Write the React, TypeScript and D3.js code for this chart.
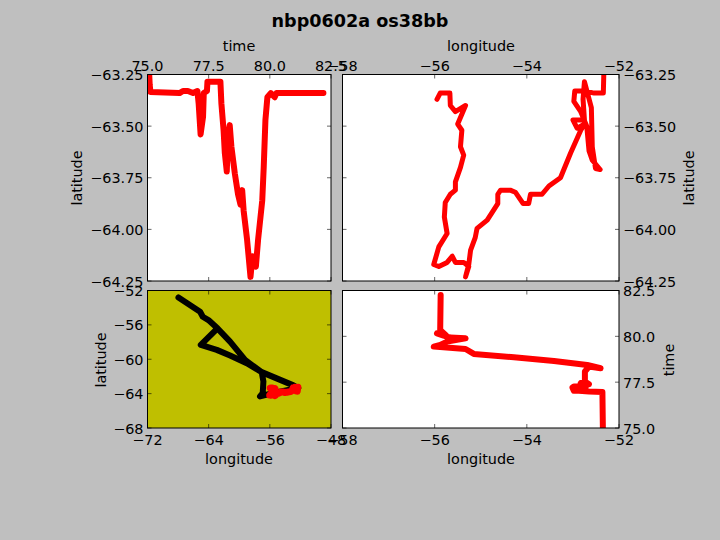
import React from "react";
import * as d3 from "d3";

const W = 720, H = 540;
const FONT = "'DejaVu Sans', sans-serif";

// Track A: time vs latitude
const tlTime = [75.07,75.09,75.12,76.31,76.45,76.65,76.86,77.04,77.09,77.17,77.27,77.30,77.43,77.45,77.98,78.02,78.11,78.16,78.24,78.29,78.36,78.43,78.57,78.70,78.80,78.87,78.93,79.07,79.21,79.29,79.43,79.52,79.69,79.75,79.82,79.90,80.04,80.20,80.27,82.19];
const tlLat = [-63.25,-63.30,-63.335,-63.34,-63.33,-63.33,-63.34,-63.33,-63.39,-63.54,-63.455,-63.34,-63.33,-63.285,-63.285,-63.39,-63.52,-63.63,-63.72,-63.55,-63.495,-63.60,-63.73,-63.83,-63.88,-63.81,-63.91,-64.05,-64.23,-64.13,-64.18,-64.05,-63.86,-63.70,-63.47,-63.36,-63.34,-63.36,-63.34,-63.34];

// Track B: longitude vs latitude
const trLon = [-52.33,-52.34,-52.54,-52.75,-52.96,-52.98,-52.83,-52.70,-52.65,-52.58,-52.41,-52.51,-52.58,-52.60,-52.75,-52.78,-52.75,-53.00,-52.91,-52.75,-52.83,-53.05,-53.27,-53.52,-53.67,-53.92,-53.96,-54.08,-54.25,-54.36,-54.57,-54.63,-54.63,-54.86,-55.08,-55.12,-55.22,-55.26,-55.33,-55.26,-55.37,-55.55,-55.62,-55.73,-55.91,-56.02,-55.91,-55.73,-55.79,-55.77,-55.66,-55.55,-55.55,-55.44,-55.37,-55.44,-55.41,-55.50,-55.33,-55.55,-55.66,-55.67,-55.88,-55.95];
const trLat = [-63.25,-63.34,-63.34,-63.33,-63.33,-63.38,-63.43,-63.50,-63.62,-63.665,-63.71,-63.705,-63.60,-63.41,-63.285,-63.37,-63.47,-63.47,-63.51,-63.49,-63.52,-63.63,-63.75,-63.79,-63.83,-63.83,-63.875,-63.875,-63.82,-63.81,-63.81,-63.83,-63.875,-63.955,-63.995,-64.04,-64.10,-64.17,-64.23,-64.18,-64.16,-64.16,-64.13,-64.16,-64.18,-64.17,-64.085,-64.02,-63.94,-63.87,-63.83,-63.81,-63.77,-63.70,-63.64,-63.60,-63.52,-63.49,-63.40,-63.43,-63.40,-63.34,-63.34,-63.37];

// Track C: longitude vs time
const brLon = [-52.35,-52.36,-52.65,-52.87,-52.98,-53.01,-52.98,-52.72,-52.83,-52.65,-52.74,-52.74,-52.65,-52.40,-52.69,-53.41,-54.28,-55.15,-55.33,-56.02,-55.88,-55.73,-55.33,-55.66,-55.84,-55.95,-55.75,-55.88,-55.87];
const brTime = [75.0,76.96,76.99,77.03,77.03,77.21,77.26,77.26,77.45,77.39,77.54,78.08,78.35,78.26,78.44,78.66,78.86,79.04,79.31,79.44,79.53,79.71,79.89,79.93,80.07,80.16,80.05,80.34,82.25];

// Track D: cruise transit in black
const blLon = [-67.95,-65.12,-64.77,-64.03,-62.85,-65.03,-62.94,-61.20,-59.02,-57.06,-56.84,-56.93,-57.28,-55.54,-52.27,-52.92,-57.06,-58.37,-59.24,-61.20,-62.85];
const blLat = [-52.81,-54.47,-55.05,-55.44,-56.40,-58.33,-58.91,-59.57,-60.46,-61.50,-62.58,-63.93,-64.32,-63.93,-63.35,-63.04,-61.50,-60.65,-60.07,-57.95,-56.40];

// Tick labels
const timeTicks = ["75.0","77.5","80.0","82.5"];
const latTicks = ["\u221263.25","\u221263.50","\u221263.75","\u221264.00","\u221264.25"];
const lonTicksZoom = ["\u221258","\u221256","\u221254","\u221252"];
const lonTicksWide = ["\u221272","\u221264","\u221256","\u221248"];
const latTicksWide = ["\u221252","\u221256","\u221260","\u221264","\u221268"];

const num = (s: string) => +s.replace("\u2212", "-");
const FS = 14.4;

type Series = { xs: number[]; ys: number[]; color: string; width: number };
type PanelProps = {
  id: string; x0: number; x1: number; y0: number; y1: number;
  xTicks: string[]; yTicks: string[];
  xSide: "top" | "bottom"; ySide: "left" | "right";
  bg: string; series: Series[];
};

function Panel({ id, x0, x1, y0, y1, xTicks, yTicks, xSide, ySide, bg, series }: PanelProps) {
  const xv = xTicks.map(num), yv = yTicks.map(num);
  const sx = d3.scaleLinear().domain([xv[0], xv[xv.length - 1]]).range([x0, x1]);
  const sy = d3.scaleLinear().domain([yv[0], yv[yv.length - 1]]).range([y0, y1]);
  return (
    <g fontFamily={FONT} fontSize={FS} fill="#000">
      <clipPath id={id}><rect x={x0} y={y0} width={x1 - x0} height={y1 - y0} /></clipPath>
      <rect x={x0} y={y0} width={x1 - x0} height={y1 - y0} fill={bg} />
      <g clipPath={`url(#${id})`}>
        {series.map((s, i) => {
          const pts = s.xs.map((v, k) => [sx(v), sy(s.ys[k])] as [number, number]);
          const path = d3.line()(pts) ?? "";
          return (
            <path key={i} d={path} fill="none" stroke={s.color} strokeWidth={s.width} strokeLinejoin="round" strokeLinecap="round" />
          );
        })}
      </g>
      {xv.map((v, i) => (
        <g key={"x" + i}>
          <line x1={sx(v)} x2={sx(v)} y1={y0} y2={y0 + 4} stroke="#000" strokeWidth={0.6} />
          <line x1={sx(v)} x2={sx(v)} y1={y1} y2={y1 - 4} stroke="#000" strokeWidth={0.6} />
          <text x={sx(v)} y={xSide === "top" ? y0 - 4 : y1 + 17} textAnchor="middle">{xTicks[i]}</text>
        </g>
      ))}
      {yv.map((v, i) => (
        <g key={"y" + i}>
          <line x1={x0} x2={x0 + 4} y1={sy(v)} y2={sy(v)} stroke="#000" strokeWidth={0.6} />
          <line x1={x1} x2={x1 - 4} y1={sy(v)} y2={sy(v)} stroke="#000" strokeWidth={0.6} />
          <text x={ySide === "left" ? x0 - 4 : x1 + 4} y={sy(v) + 5.5} textAnchor={ySide === "left" ? "end" : "start"}>{yTicks[i]}</text>
        </g>
      ))}
      <rect x={x0} y={y0} width={x1 - x0} height={y1 - y0} fill="none" stroke="#000" strokeWidth={1} />
    </g>
  );
}

function Label({ x, y, text, rotate }: { x: number; y: number; text: string; rotate?: boolean }) {
  return (
    <text x={x} y={y} fontFamily={FONT} fontSize={FS} textAnchor="middle" dominantBaseline="central"
      transform={rotate ? `rotate(-90 ${x} ${y})` : undefined}>{text}</text>
  );
}

export default function App() {
  return (
    <svg width={W} height={H} viewBox={`0 0 ${W} ${H}`} style={{ position: "absolute", left: 0, top: 0 }}>
      <rect width={W} height={H} fill="#bfbfbf" />
      <text x={360} y={27} textAnchor="middle" fontFamily={FONT} fontSize={17.6} fontWeight="bold">nbp0602a os38bb</text>
      <Panel id="a" x0={147.5} x1={331} y0={74.5} y1={281} xTicks={timeTicks} yTicks={latTicks} xSide="top" ySide="left" bg="#fff"
        series={[{ xs: tlTime, ys: tlLat, color: "#ff0000", width: 6 }]} />
      <Panel id="b" x0={342.5} x1={619} y0={74.5} y1={281} xTicks={lonTicksZoom} yTicks={latTicks} xSide="top" ySide="right" bg="#fff"
        series={[{ xs: trLon, ys: trLat, color: "#ff0000", width: 5 }]} />
      <Panel id="c" x0={147.5} x1={331} y0={290.5} y1={428} xTicks={lonTicksWide} yTicks={latTicksWide} xSide="bottom" ySide="left" bg="#bfbf00"
        series={[{ xs: blLon, ys: blLat, color: "#000000", width: 6 }, { xs: trLon, ys: trLat, color: "#ff0000", width: 7 }]} />
      <Panel id="d" x0={342.5} x1={619} y0={290.5} y1={428} xTicks={lonTicksZoom} yTicks={[...timeTicks].reverse()} xSide="bottom" ySide="right" bg="#fff"
        series={[{ xs: brLon, ys: brTime, color: "#ff0000", width: 6 }]} />
      <Label x={239} y={46} text="time" />
      <Label x={481} y={46} text="longitude" />
      <Label x={239} y={459} text="longitude" />
      <Label x={481} y={459} text="longitude" />
      <Label x={77} y={178} text="latitude" rotate />
      <Label x={689} y={178} text="latitude" rotate />
      <Label x={101} y={360} text="latitude" rotate />
      <Label x={669} y={360} text="time" rotate />
    </svg>
  );
}
